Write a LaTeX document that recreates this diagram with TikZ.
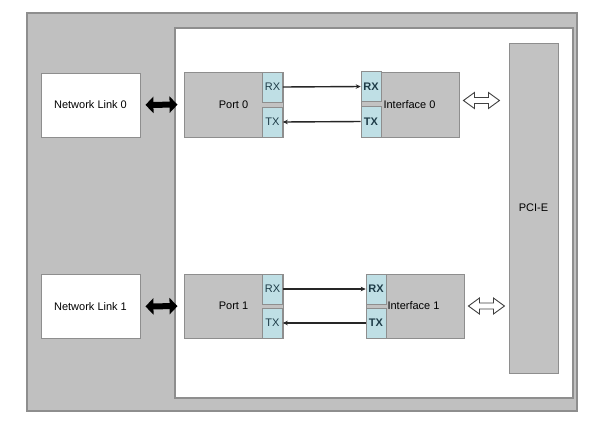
\documentclass[tikz,border=0pt]{standalone}
\usepackage{fontspec}
\setmainfont{Liberation Sans}
\usetikzlibrary{arrows.meta,calc}
\definecolor{bggray}{HTML}{C0C0C0}
\definecolor{edgegray}{HTML}{8E8E8E}
\definecolor{boxgray}{HTML}{C2C2C2}
\definecolor{cellblue}{HTML}{BFDFE5}
\definecolor{celltext}{HTML}{1E3C48}
\begin{document}
\begin{tikzpicture}[x=1pt,y=-1pt,
  every node/.style={inner sep=0pt, font=\fontsize{11}{13}\selectfont},
  frame/.style={draw=edgegray, line width=1.4pt},
  linkbox/.style={draw=edgegray, line width=0.9pt, fill=white, minimum width=99pt, minimum height=64pt},
  blockbox/.style={draw=edgegray, line width=0.9pt, fill=boxgray},
  cellbox/.style={draw=edgegray, line width=0.6pt, fill=cellblue, minimum width=20pt, minimum height=30pt, text=celltext},
  boldcell/.style={cellbox, font=\fontsize{11}{13}\selectfont\bfseries},
  bigarrow/.style={line width=6pt, {Triangle[length=8pt,width=16pt]}-{Triangle[length=8pt,width=16pt]}},
  hollowarrow/.style={draw=black!75, fill=white, line width=0.9pt, line join=miter},
  sigarrow/.style={line width=1.4pt, draw=black!85, -{Stealth[length=5pt,width=4.5pt]}}
]
\useasboundingbox (0,0) rectangle (596,421);
\fill[white] (0,0) rectangle (596,421);
% outer gray frame
\node[frame, fill=bggray, minimum width=550pt, minimum height=398pt] (outer) at (302,212) {};
% inner white area
\node[frame, fill=white, minimum width=398pt, minimum height=370pt] (inner) at (374,213) {};

% network links
\node[linkbox] (nl0) at (90.5,105) {Network Link 0};
\node[linkbox] (nl1) at (90.5,306.5) {Network Link 1};

% ports
\node[blockbox, minimum width=99pt, minimum height=65pt] (p0) at (233.5,104.5) {Port 0};
\node[cellbox] (p0rx) at (272.5,87) {RX};
\node[cellbox] (p0tx) at (272.5,122) {TX};
\node[blockbox, minimum width=99pt, minimum height=64pt] (p1) at (233.5,306) {Port 1};
\node[cellbox] (p1rx) at (272.5,289) {RX};
\node[cellbox] (p1tx) at (272.5,323) {TX};

% interfaces
\node[blockbox, minimum width=98pt, minimum height=65pt] (i0) at (410,104.5) {\hspace*{-1pt}Interface 0};
\node[boldcell] (i0rx) at (371,86.5) {RX};
\node[boldcell, minimum height=31pt] (i0tx) at (371,121.5) {TX};
\node[blockbox, minimum width=98pt, minimum height=64pt] (i1) at (415,306) {\hspace*{-3pt}Interface 1};
\node[boldcell] (i1rx) at (376,289) {RX};
\node[boldcell] (i1tx) at (376,323) {TX};

% PCI-E
\node[blockbox, minimum width=49pt, minimum height=330pt] (pcie) at (533.5,208) {PCI-E};

% link arrows
\draw[bigarrow, shorten <=5pt, shorten >=6pt] (nl0.east) -- (p0.west);
\draw[bigarrow, shorten <=5pt, shorten >=6pt] (nl1.east) -- (p1.west);

% signal arrows
\draw[sigarrow] (p0rx.east) -- (i0rx.west);
\draw[sigarrow] (i0tx.west) -- (p0tx.east);
\draw[sigarrow] (p1rx.east) -- (i1rx.west);
\draw[sigarrow] (i1tx.west) -- (p1tx.east);

% PCI-E hollow double arrows
\coordinate (a0) at ($(i0.east)+(4,-4)$);
\coordinate (a1) at ($(i1.east)+(4,0)$);
\foreach \a in {a0,a1}{
  \draw[hollowarrow] (\a) -- ++(11,-8) -- ++(0,5) -- ++(14,0) -- ++(0,-5) -- ++(11,8)
    -- ++(-11,8) -- ++(0,-5) -- ++(-14,0) -- ++(0,5) -- cycle;
}
\end{tikzpicture}
\end{document}
